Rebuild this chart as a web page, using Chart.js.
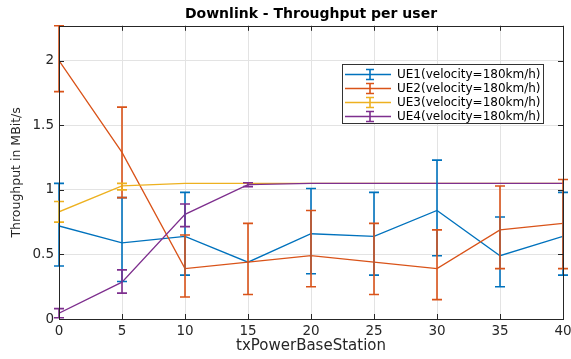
<!DOCTYPE html>
<html><head><meta charset="utf-8">
<script src="https://cdn.jsdelivr.net/npm/chart.js@4/dist/chart.umd.min.js"></script>
<style>html,body{margin:0;padding:0;background:#fff}#wrap{width:571px;height:359px}</style>
</head><body><div id="wrap"><canvas id="c" width="571" height="359"></canvas></div>
<script>
// ---- data ----
const txPower = [0, 5, 10, 15, 20, 25, 30, 35, 40];
const xTickValues = [0, 5, 10, 15, 20, 25, 30, 35, 40];
const yTickValues = [0, 0.5, 1, 1.5, 2];
const seriesNames = ['UE1(velocity=180km/h)', 'UE2(velocity=180km/h)', 'UE3(velocity=180km/h)', 'UE4(velocity=180km/h)'];

const ue1 =   [0.72, 0.59, 0.64, 0.44, 0.66, 0.64, 0.84, 0.49, 0.64];
const ue1Lo = [0.41, 0.29, 0.34, 0.44, 0.35, 0.34, 0.49, 0.25, 0.34];
const ue1Hi = [1.05, 0.94, 0.98, 0.44, 1.01, 0.98, 1.23, 0.79, 0.98];

const ue2 =   [2.00, 1.29, 0.39, 0.44, 0.49, 0.44, 0.39, 0.69, 0.74];
const ue2Lo = [1.76, 0.94, 0.17, 0.19, 0.25, 0.19, 0.15, 0.39, 0.39];
const ue2Hi = [2.27, 1.64, 0.65, 0.74, 0.84, 0.74, 0.69, 1.03, 1.08];

const ue3 =   [0.83, 1.03, 1.05, 1.05, 1.05, 1.05, 1.05, 1.05, 1.05];
const ue3Lo = [0.75, 1.00, 1.05, 1.05, 1.05, 1.05, 1.05, 1.05, 1.05];
const ue3Hi = [0.91, 1.05, 1.05, 1.05, 1.05, 1.05, 1.05, 1.05, 1.05];

const ue4 =   [0.045, 0.285, 0.81, 1.04, 1.05, 1.05, 1.05, 1.05, 1.05];
const ue4Lo = [0.01, 0.20, 0.715, 1.025, 1.05, 1.05, 1.05, 1.05, 1.05];
const ue4Hi = [0.08, 0.38, 0.89, 1.055, 1.05, 1.05, 1.05, 1.05, 1.05];

const colors = ['#0072BD', '#D95319', '#EDB120', '#7E2F8E'];
const FONT = "'DejaVu Sans', sans-serif";
const TXT = '#262626';

const vals = [ue1, ue2, ue3, ue4];
const los = [ue1Lo, ue2Lo, ue3Lo, ue4Lo];
const his = [ue1Hi, ue2Hi, ue3Hi, ue4Hi];

const datasets = vals.map((v, k) => ({
  label: seriesNames[k],
  data: txPower.map((x, i) => ({ x: x, y: v[i] })),
  borderColor: colors[k],
  backgroundColor: colors[k],
  borderWidth: 1.3,
  pointRadius: 0,
  tension: 0,
  fill: false,
  order: 4 - k,
  errLo: los[k],
  errHi: his[k]
}));

const errorBars = {
  id: 'errorBars',
  afterDatasetsDraw(chart) {
    const { ctx, scales: { x, y } } = chart;
    ctx.save();
    chart.data.datasets.forEach(ds => {
      ctx.strokeStyle = ds.borderColor;
      ctx.lineWidth = 1.6;
      txPower.forEach((xv, i) => {
        const lo = ds.errLo[i], hi = ds.errHi[i];
        if (hi - lo <= 0.0001) return;
        const px = x.getPixelForValue(xv);
        const pLo = y.getPixelForValue(lo), pHi = y.getPixelForValue(hi);
        ctx.beginPath();
        ctx.moveTo(px, pLo); ctx.lineTo(px, pHi);
        ctx.moveTo(px - 5, pLo); ctx.lineTo(px + 5, pLo);
        ctx.moveTo(px - 5, pHi); ctx.lineTo(px + 5, pHi);
        ctx.stroke();
      });
    });
    ctx.restore();
  }
};

const frameAndLegend = {
  id: 'frameAndLegend',
  afterDraw(chart) {
    const { ctx, chartArea: a, scales: { x, y } } = chart;
    ctx.save();
    ctx.strokeStyle = TXT;
    ctx.lineWidth = 1;
    ctx.strokeRect(Math.round(a.left) + 0.5, Math.round(a.top) + 0.5, Math.round(a.right - a.left), Math.round(a.bottom - a.top));
    ctx.beginPath();
    xTickValues.forEach(v => {
      const px = Math.round(x.getPixelForValue(v)) + 0.5;
      ctx.moveTo(px, a.bottom); ctx.lineTo(px, a.bottom - 5);
      ctx.moveTo(px, a.top); ctx.lineTo(px, a.top + 5);
    });
    yTickValues.forEach(v => {
      const py = Math.round(y.getPixelForValue(v)) + 0.5;
      ctx.moveTo(a.left, py); ctx.lineTo(a.left + 5, py);
      ctx.moveTo(a.right, py); ctx.lineTo(a.right - 5, py);
    });
    ctx.stroke();
    // legend
    const bx = 342, by = 64, bw = 201, bh = 59;
    ctx.fillStyle = '#fff';
    ctx.fillRect(bx, by, bw, bh);
    ctx.strokeStyle = '#333';
    ctx.lineWidth = 1;
    ctx.strokeRect(bx + 0.5, by + 0.5, bw, bh);
    const rowY = [74, 88, 102, 116];
    ctx.font = '12px ' + FONT;
    ctx.textBaseline = 'middle';
    ctx.textAlign = 'left';
    chart.data.datasets.forEach((ds, k) => {
      const ry = rowY[k] + 0.5;
      ctx.strokeStyle = ds.borderColor;
      ctx.lineWidth = 1.3;
      ctx.beginPath();
      ctx.moveTo(345, ry); ctx.lineTo(391, ry);
      ctx.stroke();
      ctx.lineWidth = 1.6;
      ctx.beginPath();
      ctx.moveTo(370, ry - 5); ctx.lineTo(370, ry + 5);
      ctx.moveTo(366, ry - 5); ctx.lineTo(374, ry - 5);
      ctx.moveTo(366, ry + 5); ctx.lineTo(374, ry + 5);
      ctx.stroke();
      ctx.fillStyle = '#000';
      ctx.fillText(ds.label, 397, rowY[k] + 1);
    });
    ctx.restore();
  }
};

new Chart(document.getElementById('c'), {
  type: 'line',
  data: { datasets: datasets },
  plugins: [errorBars, frameAndLegend],
  options: {
    responsive: false,
    animation: false,
    devicePixelRatio: 1,
    layout: { padding: { left: 0, right: 8, top: 0, bottom: 0 } },
    plugins: {
      legend: { display: false },
      tooltip: { enabled: false },
      title: {
        display: true,
        fullSize: false,
        text: 'Downlink - Throughput per user',
        color: '#000',
        font: { family: FONT, size: 14, weight: 'bold' },
        padding: { top: 6, bottom: 3 }
      }
    },
    scales: {
      x: {
        type: 'linear',
        min: 0, max: 40,
        afterBuildTicks: s => { s.ticks = xTickValues.map(v => ({ value: v })); },
        afterFit: s => { s.height = 40; s.paddingLeft = 0; s.paddingRight = 0; },
        ticks: { color: TXT, font: { family: FONT, size: 13.5 }, padding: 4, maxRotation: 0, callback: v => String(v) },
        grid: { color: '#e3e3e3', drawTicks: false },
        border: { display: false },
        title: { display: true, text: 'txPowerBaseStation', color: TXT, font: { family: FONT, size: 15 }, padding: { top: 0, bottom: 4 } }
      },
      y: {
        type: 'linear',
        min: 0, max: 2.27,
        afterBuildTicks: s => { s.ticks = yTickValues.map(v => ({ value: v })); },
        afterFit: s => { s.width = 59; s.paddingTop = 0; s.paddingBottom = 0; },
        ticks: { color: TXT, font: { family: FONT, size: 13.5 }, padding: 5, callback: v => String(v) },
        grid: { color: '#e3e3e3', drawTicks: false },
        border: { display: false },
        title: { display: true, text: 'Throughput in MBit/s', color: TXT, font: { family: FONT, size: 12.5 }, padding: { top: 9, bottom: 0 } }
      }
    }
  }
});
</script></body></html>
